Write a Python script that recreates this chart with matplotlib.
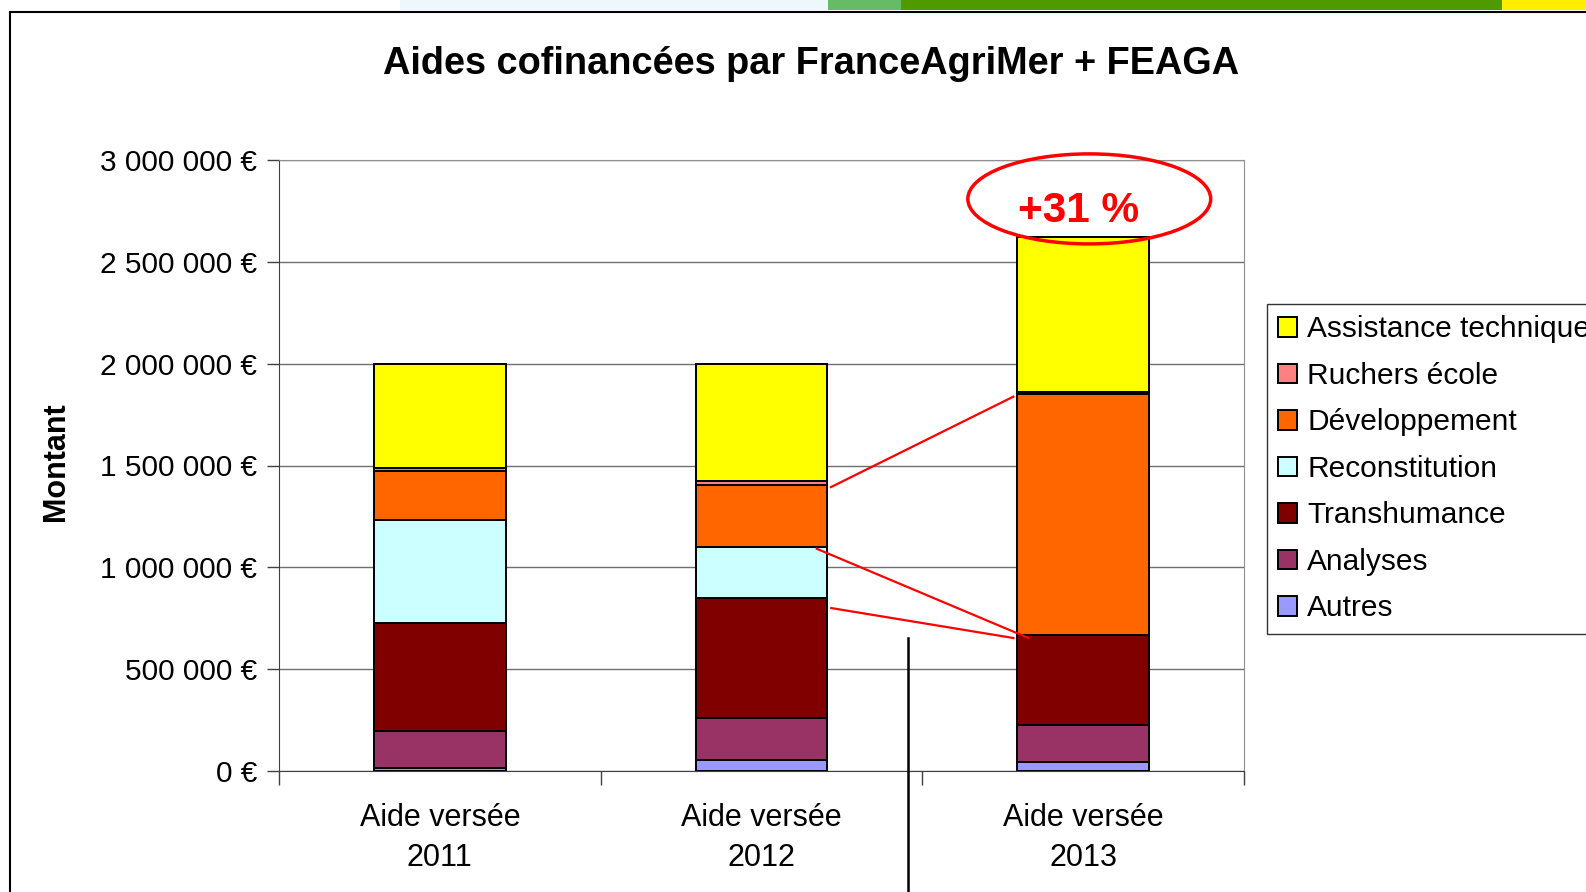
import numpy as np
import matplotlib.pyplot as plt
from matplotlib.patches import Ellipse, Rectangle
from matplotlib.lines import Line2D

plt.rcParams['font.family'] = ['Liberation Sans', 'DejaVu Sans']

# data (euros)
years = ['Aide versée\n2011', 'Aide versée\n2012', 'Aide versée\n2013']
autres = [16e3, 54e3, 43e3]
analyses = [182e3, 208e3, 181e3]
transhumance = [528e3, 587e3, 445e3]
reconstitution = [507e3, 253e3, 0]
developpement = [238e3, 300e3, 1182e3]
ruchers = [19e3, 23e3, 8e3]
assistance = [510e3, 575e3, 765e3]

series = [
    ('Autres', autres, '#9999FF'),
    ('Analyses', analyses, '#993366'),
    ('Transhumance', transhumance, '#800000'),
    ('Reconstitution', reconstitution, '#CCFFFF'),
    ('Développement', developpement, '#FF6600'),
    ('Ruchers école', ruchers, '#FF8080'),
    ('Assistance technique', assistance, '#FFFF00'),
]

W, H = 1586, 892
fig = plt.figure(figsize=(W / 100, H / 100), dpi=100)

# slide decoration: coloured strip at the top and frame
for x0, x1, col in [(400, 828, '#eef7fb'), (828, 901, '#66bb66'),
                    (901, 1502, '#4f9a00'), (1502, W, '#ffee00')]:
    fig.add_artist(Rectangle((x0 / W, 1 - 10 / H), (x1 - x0) / W, 10 / H,
                             transform=fig.transFigure, color=col, lw=0))
fig.add_artist(Line2D([10 / W, 1], [1 - 12 / H, 1 - 12 / H], color='black', lw=1.5))
fig.add_artist(Line2D([10 / W, 10 / W], [0, 1 - 12 / H], color='black', lw=1.5))

ax = fig.add_axes([279 / W, 1 - 771 / H, (1244 - 279) / W, (771 - 160) / H])

x = np.arange(len(years))
bottom = np.zeros(len(years))
handles = []
for name, vals, col in series:
    b = ax.bar(x, vals, 0.41, bottom=bottom, color=col, edgecolor='black',
               linewidth=1.4, label=name, zorder=3)
    handles.append(b)
    bottom += np.array(vals)
totals = bottom

ax.set_xlim(-0.5, 2.5)
ax.set_ylim(0, 3e6)
yt = np.arange(0, 3e6 + 1, 5e5)
ax.set_yticks(yt)
ax.set_yticklabels([('%d' % v if v == 0 else f'{v:,.0f}'.replace(',', ' ')) + ' €' for v in yt],
                   fontsize=21.5)
ax.tick_params(axis='y', direction='out', length=9, width=1, pad=7, color='#404040')
ax.set_xticks(x)
ax.set_xticklabels(years, fontsize=22, linespacing=1.45)
ax.tick_params(axis='x', which='major', length=0, pad=23)
ax.set_xticks([-0.5, 0.5, 1.5, 2.5], minor=True)
ax.tick_params(axis='x', which='minor', direction='out', length=10, width=1, color='#404040')

ax.grid(axis='y', color='#707070', lw=1, zorder=0)
for s in ['top', 'right']:
    ax.spines[s].set_color('#909090')
for s in ['left', 'bottom']:
    ax.spines[s].set_color('#404040')

fig.suptitle('Aides cofinancées par FranceAgriMer + FEAGA', x=811 / W, y=1 - 64 / H,
             va='center', fontsize=27.3, fontweight='bold')
fig.text(56 / W, 1 - 462 / H, 'Montant', rotation=90, ha='center', va='center',
         fontsize=22, fontweight='bold')

# growth annotation
growth = (totals[2] / totals[0] - 1) * 100
ax.add_patch(Ellipse((2.019, totals[2] + 185e3), 0.755, 442e3, fill=False,
                     edgecolor='#FF0000', lw=2.5, clip_on=False, zorder=5))
ax.text(1.986, totals[2] + 125e3, '+%d %%' % round(growth), color='#FF0000',
        fontsize=30.5, fontweight='bold', ha='center', va='center', zorder=6)
for (x0, y0), (x1, y1) in [((1.216, 1.394e6), (1.783, 1.838e6)),
                           ((1.172, 1.091e6), (1.830, 0.653e6)),
                           ((1.217, 0.800e6), (1.783, 0.653e6))]:
    ax.plot([x0, x1], [y0, y1], color='#FF0000', lw=1.6, zorder=6)

# slide divider line
fig.add_artist(Line2D([908 / W, 908 / W], [0, 1 - 638 / H], color='black', lw=1.8))

leg = fig.legend(handles[::-1], [s[0] for s in series][::-1], loc='upper left',
                 bbox_to_anchor=(1267 / W, 1 - 304 / H), bbox_transform=fig.transFigure,
                 fontsize=21.5, frameon=True, fancybox=False, edgecolor='black',
                 handlelength=0.62, handleheight=0.62, handletextpad=0.35,
                 labelspacing=0.62, borderpad=0.38, borderaxespad=0)
leg.get_frame().set_linewidth(1.0)

fig.savefig('out.png', dpi=100)
